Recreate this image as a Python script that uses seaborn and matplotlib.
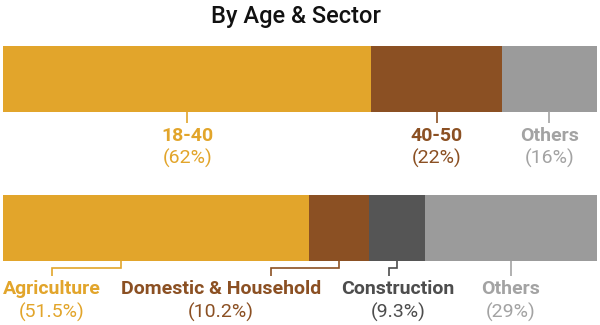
import matplotlib
matplotlib.use("Agg")
import matplotlib.pyplot as plt
import seaborn as sns
import numpy as np
import pandas as pd

# ---- data ----
title = "By Age & Sector"
row_names = ["Age", "Sector"]
age_labels = ["18-40", "40-50", "Others"]
age_values = [62, 22, 16]
sector_labels = ["Agriculture", "Domestic & Household", "Construction", "Others"]
sector_values = [51.5, 10.2, 9.3, 29]

# ---- styles ----
ORANGE = "#E2A52B"
BROWN = "#8B5023"
DARK = "#555555"
LIGHT = "#9B9B9B"
age_colors = [ORANGE, BROWN, LIGHT]
age_text_colors = [ORANGE, BROWN, "#A3A3A3"]
sector_colors = [ORANGE, BROWN, DARK, LIGHT]
sector_text_colors = [ORANGE, BROWN, "#4D4D4D", "#A3A3A3"]

sns.set_theme(style="white")
plt.rcParams["font.family"] = ["Roboto", "DejaVu Sans"]

W, H, DPI = 600, 325, 100
fig = plt.figure(figsize=(W / DPI, H / DPI), dpi=DPI)
ax = fig.add_axes([0, 0, 1, 1])

# pixel mapping helpers (layout only)
PX_L, PX_R = 3, 597
ROW_CENTER_PX = [78.5, 228.5]
UNIT_PX = ROW_CENTER_PX[1] - ROW_CENTER_PX[0]
BAR_H = 66 / UNIT_PX


def py(p):
    return (p - ROW_CENTER_PX[0]) / UNIT_PX


def stacked(row, labels, values, colors):
    cums = np.cumsum(values)
    for lab, c, col in reversed(list(zip(labels, cums, colors))):
        df = pd.DataFrame({"row": [row], "value": [c]})
        sns.barplot(data=df, x="value", y="row", order=row_names, color=col,
                    width=BAR_H, ax=ax, linewidth=0, saturation=1, errorbar=None)
    starts = np.concatenate([[0], cums[:-1]])
    return (starts + cums) / 2


age_centers = stacked("Age", age_labels, age_values, age_colors)
sector_centers = stacked("Sector", sector_labels, sector_values, sector_colors)

span = PX_R - PX_L
ax.set_xlim(-PX_L / span * 100, 100 + (W - PX_R) / span * 100)
ax.set_ylim(py(H), py(0))
ax.set_axis_off()

LW = 1.2
FS = 14

# top row labels
for cx, lab, v, tc in zip(age_centers, age_labels, age_values, age_text_colors):
    ax.plot([cx, cx], [py(111), py(123)], color=tc, lw=LW, solid_capstyle="butt")
    ax.text(cx, py(136), lab, color=tc, fontsize=FS, fontweight="bold",
            ha="center", va="center")
    ax.text(cx, py(158), f"({v:g}%)", color=tc, fontsize=FS,
            ha="center", va="center")

# bottom row labels with elbow leaders (layout positions in percent)
leader_start = [19.9, sector_centers[1], sector_centers[2], sector_centers[3]]
leader_end = [8.2, 45.1, 65.0, sector_centers[3]]
label_x = [8.2, 36.7, 66.5, sector_centers[3]]
for sx, ex, lx, lab, v, tc in zip(leader_start, leader_end, label_x,
                                   sector_labels, sector_values, sector_text_colors):
    ax.plot([sx, sx, ex, ex], [py(261), py(268), py(268), py(276)],
            color=tc, lw=LW, solid_joinstyle="miter", solid_capstyle="butt")
    ax.text(lx, py(289), lab, color=tc, fontsize=FS, fontweight="bold",
            ha="center", va="center")
    ax.text(lx, py(312), f"({v:g}%)", color=tc, fontsize=FS,
            ha="center", va="center")

fig.text(296 / W, 1 - 16 / H, title, fontsize=17, fontweight="medium",
         color="#111111", ha="center", va="center")

fig.savefig("out.png", dpi=DPI)
